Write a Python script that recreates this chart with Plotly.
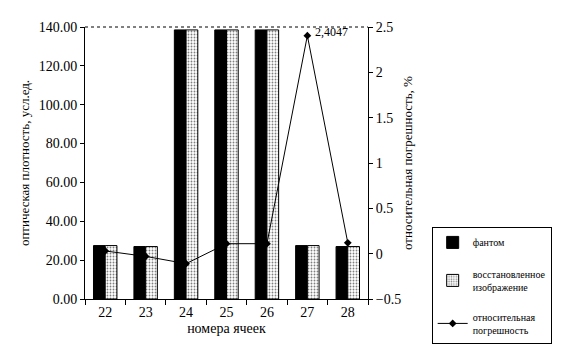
import plotly.graph_objects as go

cells = ["22", "23", "24", "25", "26", "27", "28"]
phantom = [27.5, 27.0, 138.5, 138.5, 138.5, 27.5, 27.0]
restored = [27.5, 27.0, 138.5, 138.5, 138.5, 27.5, 27.0]
rel_error = [0.03, -0.03, -0.11, 0.11, 0.11, 2.4047, 0.12]
left_ticks = [0, 20, 40, 60, 80, 100, 120, 140]
right_ticks = [-0.5, 0, 0.5, 1, 1.5, 2, 2.5]

FONT = "Liberation Serif"

peak_i = rel_error.index(max(rel_error))

fig = go.Figure()
fig.add_trace(go.Bar(
    x=cells, y=phantom, name="фантом",
    marker=dict(color="black", line=dict(color="black", width=1)),
    legendgroup="a",
))
fig.add_trace(go.Bar(
    x=cells, y=restored, name="восстановленное<br>изображение",
    marker=dict(color="white", line=dict(color="black", width=1),
                pattern=dict(shape=".", fgcolor="black", bgcolor="white",
                             size=3, solidity=0.3)),
    legendgroup="b",
))
fig.add_trace(go.Scatter(
    x=cells, y=rel_error, name="относительная<br>погрешность",
    mode="lines+markers", yaxis="y2",
    line=dict(color="black", width=1),
    marker=dict(symbol="diamond", size=6, color="black"),
    legendgroup="c",
))

fig.add_annotation(
    x=peak_i, y=rel_error[peak_i], yref="y2",
    text=f"{rel_error[peak_i]:.4f}".replace(".", ","), showarrow=False,
    xanchor="left", yanchor="middle", xshift=6, yshift=4,
    font=dict(family=FONT, size=12, color="black"),
)

fig.update_layout(
    width=570, height=362,
    margin=dict(l=77, r=210, t=13, b=71),
    paper_bgcolor="white", plot_bgcolor="white",
    barmode="group", bargap=0.42, bargroupgap=0.0,
    font=dict(family=FONT, size=13, color="black"),
    showlegend=True,
    legend=dict(
        x=1.225, y=0.265, xanchor="left", yanchor="top",
        bordercolor="black", borderwidth=1, bgcolor="white",
        font=dict(family=FONT, size=10, color="black"),
        tracegroupgap=14, itemwidth=30,
    ),
    xaxis=dict(
        type="category", range=[-0.5, len(cells) - 0.5],
        showline=True, linecolor="black", linewidth=1,
        ticks="outside", ticklen=5, tickcolor="black", tickson="boundaries",
        showgrid=False, mirror=False, tickangle=0,
        title=dict(text="номера ячеек", font=dict(family=FONT, size=14), standoff=4),
        tickfont=dict(family=FONT, size=14),
    ),
    yaxis=dict(
        range=[0, 140], tickvals=left_ticks, tickformat=".2f",
        showline=True, linecolor="black", linewidth=1,
        ticks="outside", ticklen=4, tickcolor="black", showgrid=False,
        zeroline=False,
        title=dict(text="оптическая плотность, усл.ед.", font=dict(family=FONT, size=13), standoff=6),
        tickfont=dict(family=FONT, size=14),
    ),
    yaxis2=dict(
        range=[-0.5, 2.5], tickvals=right_ticks, overlaying="y", side="right",
        showline=True, linecolor="black", linewidth=1,
        ticks="outside", ticklen=4, tickcolor="black", showgrid=False,
        zeroline=False,
        title=dict(text="относительная погрешность, %", font=dict(family=FONT, size=13), standoff=2),
        tickfont=dict(family=FONT, size=14),
    ),
    shapes=[dict(type="line", xref="paper", yref="paper", x0=0, x1=1, y0=1, y1=1,
                 line=dict(color="black", width=1, dash="dot"))],
)

fig.write_html("out.html")
